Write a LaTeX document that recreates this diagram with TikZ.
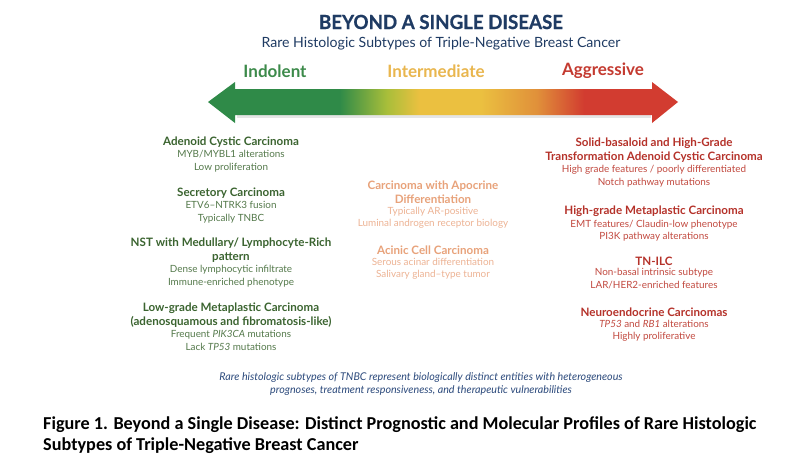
\documentclass[tikz,border=0pt]{standalone}
\usepackage{fontspec}
\setmainfont{Lato}
\newfontfamily\capfont{Carlito}
\newfontfamily\titlefont[FakeStretch=0.96,FakeBold=0.6]{Lato}
\usetikzlibrary{positioning}
\definecolor{navy}{HTML}{1F3B63}
\definecolor{footblue}{HTML}{2C4A7C}
\definecolor{lowgreen}{HTML}{3C8A4A}
\definecolor{midyellow}{HTML}{E9B64E}
\definecolor{highred}{HTML}{C43A30}
\definecolor{greenhead}{HTML}{3B6430}
\definecolor{greentext}{HTML}{557A4C}
\definecolor{orangehead}{HTML}{E8A27A}
\definecolor{orangetext}{HTML}{EDB394}
\definecolor{redhead}{HTML}{B5322A}
\definecolor{redtext}{HTML}{C24A40}
\definecolor{bargreen}{HTML}{2F8A48}
\definecolor{barlime}{HTML}{A8BE3A}
\definecolor{baryellow}{HTML}{EBC040}
\definecolor{barorange}{HTML}{E0903A}
\definecolor{barred}{HTML}{D23C30}
\pgfdeclarehorizontalshading{riskbar}{100bp}{color(0bp)=(bargreen); color(25bp)=(bargreen);
  color(39bp)=(bargreen); color(44bp)=(barlime); color(47.5bp)=(baryellow);
  color(54bp)=(baryellow); color(60bp)=(barorange); color(65bp)=(barred);
  color(75bp)=(barred); color(100bp)=(barred)}
\begin{document}
\begin{tikzpicture}
[x=1pt,y=-1pt,
  scalelabel/.style={font=\bfseries\fontsize{17}{18}\selectfont},
  headgreen/.style={font=\bfseries\fontsize{11.6}{14}\selectfont,text=greenhead,align=center,inner sep=0pt},
  bodygreen/.style={font=\fontsize{9.9}{12.5}\selectfont,text=greentext,align=center,inner sep=0pt},
  headorange/.style={headgreen,text=orangehead},
  bodyorange/.style={bodygreen,text=orangetext},
  headred/.style={headgreen,text=redhead},
  bodyred/.style={bodygreen,text=redtext}]
\useasboundingbox[fill=white] (0,0) rectangle (800,469);
%% title block
\node (title) at (441,22) [font=\titlefont\bfseries\fontsize{19.5}{22}\selectfont,text=navy] {BEYOND A SINGLE DISEASE};
\node (subtitle) at (441,44) [font=\fontsize{14.1}{16}\selectfont,text=navy] {Rare Histologic Subtypes of Triple-Negative Breast Cancer};
%% scale labels
\node (indolent) at (275,71) [scalelabel,text=lowgreen] {Indolent};
\node (intermediate) at (436,71) [scalelabel,text=midyellow] {Intermediate};
\node (aggressive) at (603,71) [scalelabel,text=highred] {Aggressive};
%% gradient double arrow
\fill[black!10] (237,115) -- (651,115) -- (651,118) -- (237,118) -- cycle;
\shade[shading=riskbar] (208,102) -- (235,82) -- (235,89) -- (652,89) -- (652,82)
  -- (678,102) -- (652,123) -- (652,115) -- (235,115) -- (235,123) -- cycle;
%% indolent column
\node (acc) at (231,142) [headgreen] {Adenoid Cystic Carcinoma};
\node (accx) [bodygreen,below=3pt of acc] {MYB/MYBL1 alterations\\Low proliferation};
\node (sec) at (231,193) [headgreen] {Secretory Carcinoma};
\node (secx) [bodygreen,below=3pt of sec] {ETV6--NTRK3 fusion\\Typically TNBC};
\node (nst) at (231,250) [headgreen] {NST with Medullary/ Lymphocyte-Rich\\pattern};
\node (nstx) [bodygreen,below=3pt of nst] {Dense lymphocytic infiltrate\\Immune-enriched phenotype};
\node (lgm) at (231,315) [headgreen] {Low-grade Metaplastic Carcinoma\\(adenosquamous and fibromatosis-like)};
\node (lgmx) [bodygreen,below=3pt of lgm] {Frequent \emph{PIK3CA} mutations\\Lack \emph{TP53} mutations};
%% intermediate column
\node (apo) at (433,192) [headorange] {Carcinoma with Apocrine\\Differentiation};
\node (apox) [bodyorange,below=3pt of apo] {Typically AR-positive\\Luminal androgen receptor biology};
\node (aci) at (433,250) [headorange] {Acinic Cell Carcinoma};
\node (acix) [bodyorange,below=3pt of aci] {Serous acinar differentiation\\Salivary gland--type tumor};
%% aggressive column
\node (sba) at (654,150) [headred] {Solid-basaloid and High-Grade\\Transformation Adenoid Cystic Carcinoma};
\node (sbax) [bodyred,below=3pt of sba] {High grade features / poorly differentiated\\Notch pathway mutations};
\node (hgm) at (654,211) [headred] {High-grade Metaplastic Carcinoma};
\node (hgmx) [bodyred,below=3pt of hgm] {EMT features/ Claudin-low phenotype\\PI3K pathway alterations};
\node (ilc) at (654,261) [headred] {TN-ILC};
\node (ilcx) [bodyred,below=3pt of ilc] {Non-basal intrinsic subtype\\LAR/HER2-enriched features};
\node (nec) at (654,312) [headred] {Neuroendocrine Carcinomas};
\node (necx) [bodyred,below=3pt of nec] {\emph{TP53} and \emph{RB1} alterations\\Highly proliferative};
%% footer note and caption
\node (note) at (421,384) [font=\itshape\fontsize{10.7}{13}\selectfont,text=footblue,align=center] {Rare histologic subtypes of TNBC represent biologically distinct entities with heterogeneous\\prognoses, treatment responsiveness, and therapeutic vulnerabilities};
\node (caption) at (43,435) [anchor=west,font=\capfont\bfseries\fontsize{18.2}{21}\selectfont,align=left,inner sep=0pt] {Figure 1. Beyond a Single Disease: Distinct Prognostic and Molecular Profiles of Rare Histologic\\Subtypes of Triple-Negative Breast Cancer};
\end{tikzpicture}
\end{document}
